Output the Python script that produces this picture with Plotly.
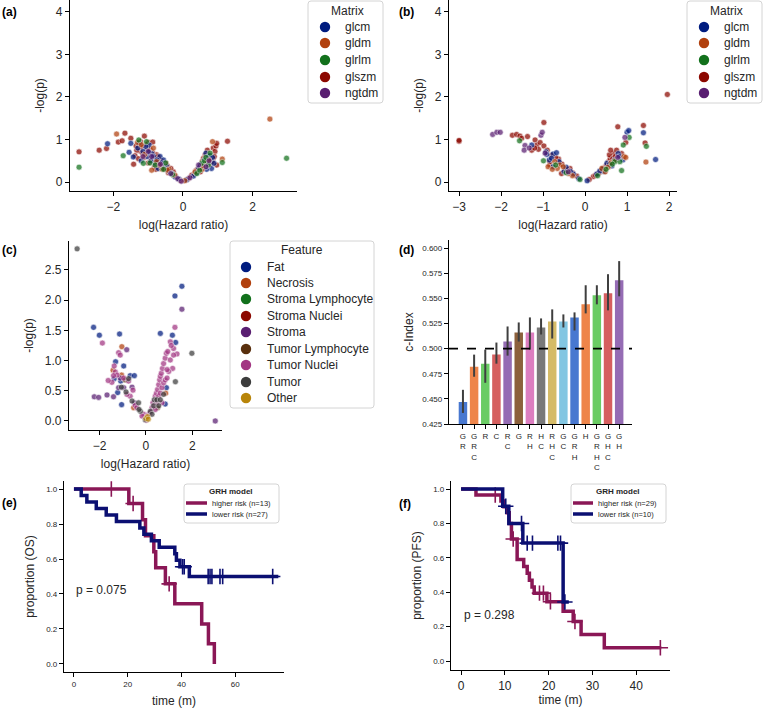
import plotly.graph_objects as go

FONT = "Liberation Sans, Arial, Helvetica, sans-serif"
TXT = "#262626"
W, H = 764, 710

# ---------------- categories / colours ----------------
MATRIX = ["glcm", "gldm", "glrlm", "glszm", "ngtdm"]
MATRIX_COLORS = ["#001c7f", "#b1400d", "#12711c", "#8c0800", "#591e71"]
FEATURES = ["Fat", "Necrosis", "Stroma Lymphocyte", "Stroma Nuclei", "Stroma",
            "Tumor Lymphocyte", "Tumor Nuclei", "Tumor", "Other"]
FEATURE_COLORS = ["#001c7f", "#b1400d", "#12711c", "#8c0800", "#591e71",
                  "#592f0d", "#a23582", "#3c3c3c", "#b8850a"]

# ---------------- panel (a) ----------------
A_GLSZM_HR = [-2.99, -2.41, -2.20, -1.86, -1.75, -1.67, -1.50, -1.42, -1.11, -0.99, -0.87, -1.03, -1.24, -1.16, -1.33, -1.19, -0.76, -0.62, -0.49, -0.82, -0.37, -0.28, -1.38, -1.28, -0.93, -0.70, -0.55, -0.42, -0.20, 0.25, 0.49, 0.50, 0.59, 0.64, 0.70, 0.76, 0.87, 0.87, 0.92, 0.95, 0.97, 0.97, 1.28, 0.38, 0.15, -0.08,
              -1.35, -1.22, -1.05, -0.95, -0.88, -0.80, -0.72, -0.65, -0.58, -0.45, -0.35, -0.30, -1.12, -1.00, -0.78, 0.42, 0.55, 0.62, 0.72, 0.80, 0.84, 0.90, 0.33]
A_GLSZM_P = [0.71, 0.75, 0.79, 0.94, 0.97, 1.15, 1.03, 0.42, 1.08, 0.93, 0.94, 0.75, 0.73, 0.67, 0.75, 0.83, 0.64, 0.48, 0.44, 0.36, 0.28, 0.24, 0.62, 0.55, 0.55, 0.50, 0.35, 0.22, 0.12, 0.16, 0.36, 0.24, 0.56, 0.64, 0.75, 0.40, 0.56, 0.80, 0.72, 0.85, 0.91, 0.40, 0.96, 0.27, 0.08, 0.04,
             0.85, 0.95, 0.88, 0.78, 0.70, 0.58, 0.60, 0.52, 0.42, 0.38, 0.32, 0.18, 0.58, 0.45, 0.30, 0.30, 0.48, 0.45, 0.56, 0.62, 0.48, 0.60, 0.20]
A_GLCM_HR = [-2.17, -1.55, -1.43, -1.50, -1.26, -0.97, -0.90, -1.03, -1.07, -0.85, -0.66, -0.56, -0.71, -0.47, -0.33, -1.20, -0.80, -0.60, -0.25, -0.12, 0.45, 0.60, 0.66, 0.73, 0.79, 0.82, 0.89, 0.30, 0.55, 0.68, 0.72, 0.10,
             -1.30, -1.15, -0.98, -0.92, -0.75, -0.62, -0.52, -0.40, -0.22, 0.50, 0.62, 0.70, 0.77, 0.85, 0.38]
A_GLCM_P = [0.90, 0.70, 0.59, 0.91, 0.92, 0.87, 0.67, 0.60, 0.83, 0.60, 0.60, 0.52, 0.32, 0.36, 0.20, 0.50, 0.45, 0.40, 0.14, 0.07, 0.32, 0.36, 0.68, 0.60, 0.54, 0.32, 0.44, 0.14, 0.42, 0.30, 0.52, 0.05,
            0.80, 0.72, 0.70, 0.50, 0.52, 0.45, 0.30, 0.26, 0.12, 0.40, 0.52, 0.44, 0.62, 0.58, 0.22]
A_GLDM_HR = [-1.91, -1.31, -0.76, -0.90, -0.23, -1.10, -0.60, -0.40, 0.35, 0.68, 0.85, 1.13, 2.50, 0.55, 0.05,
             -1.20, -0.85, -0.68, -0.45, 0.58, 0.75]
A_GLDM_P = [1.13, 0.93, 0.48, 0.28, 0.16, 0.65, 0.30, 0.30, 0.24, 0.48, 0.95, 0.54, 1.48, 0.30, 0.03,
            0.88, 0.80, 0.40, 0.28, 0.38, 0.52]
A_GLRLM_HR = [-2.99, -1.72, -1.27, -1.14, -0.56, -0.95, -0.30, 0.54, 0.78, 0.73, 1.13, 2.98, 0.40, 0.62,
              -1.05, -0.80, -0.50, 0.48, 0.66]
A_GLRLM_P = [0.35, 0.62, 0.99, 0.44, 0.30, 0.45, 0.18, 0.44, 0.68, 0.40, 0.46, 0.56, 0.20, 0.50,
             0.95, 0.40, 0.45, 0.28, 0.58]
A_NGTDM_HR = [-1.00, -0.65, -0.15, -0.05, 0.20, 0.66, 0.75, -1.15, -0.90, -0.35, 0.45]
A_NGTDM_P = [0.72, 0.42, 0.08, 0.02, 0.10, 0.36, 0.50, 0.60, 0.60, 0.20, 0.40]

# ---------------- panel (b) ----------------
B_GLSZM_HR = [-3.00, -3.00, -1.73, -1.63, -1.55, -1.51, -1.37, -1.27, -1.19, -1.15, -1.11, -1.07, -0.98, -0.98, -0.80, -0.84, -0.63, -0.56, -0.48, -0.36, -0.20, -0.84, -0.60, 0.20, 0.36, 0.48, 0.56, 0.60, 0.68, 0.75, 0.78, 0.97, 0.32, 0.58, 0.87, 1.39, 1.43, 1.96, 0.61, 0.10,
              -1.20, -0.90, -0.70, -0.55, -0.42, -0.30, 0.25, 0.42, 0.52, 0.66, 0.72]
B_GLSZM_P = [0.96, 0.98, 1.10, 1.12, 1.08, 1.03, 1.07, 0.75, 0.99, 0.87, 0.77, 0.93, 1.40, 0.85, 0.63, 0.40, 0.54, 0.20, 0.28, 0.32, 0.14, 0.48, 0.45, 0.13, 0.24, 0.36, 0.48, 0.56, 0.67, 0.75, 1.30, 0.93, 0.20, 0.64, 0.67, 1.33, 0.92, 2.06, 0.75, 0.06,
             0.80, 0.75, 0.58, 0.42, 0.30, 0.22, 0.16, 0.32, 0.40, 0.55, 0.60]
B_GLCM_HR = [-1.27, -0.93, -0.91, -0.85, -0.76, -0.68, -0.76, -0.28, -0.50, -0.15, 0.28, 0.42, 0.52, 0.64, 0.79, 0.90, 1.00, 1.04, 1.39, 1.68, 0.45, 0.05,
             -0.80, -0.62, -0.45, -0.35, 0.35, 0.58, 0.70, 0.82]
B_GLCM_P = [0.87, 0.71, 0.65, 0.52, 0.66, 0.69, 0.36, 0.19, 0.25, 0.08, 0.19, 0.30, 0.44, 0.38, 0.67, 0.52, 1.17, 1.21, 1.16, 0.53, 0.25, 0.03,
            0.56, 0.48, 0.35, 0.25, 0.26, 0.42, 0.52, 0.60]
B_GLDM_HR = [-0.88, -0.72, -0.60, -0.52, -0.66, -0.30, 0.40, 0.48, 0.93, 0.97, 1.45, 0.70, -0.78, -0.40, 0.55, 0.62]
B_GLDM_P = [0.36, 0.48, 0.40, 0.36, 0.32, 0.15, 0.32, 0.24, 0.60, 0.58, 0.47, 0.50, 0.30, 0.20, 0.35, 0.45]
B_GLRLM_HR = [-1.56, -0.99, -0.12, -0.45, 0.71, 0.83, 0.87, 1.05, 0.91, 1.46, 0.30, -0.70, 0.50, 0.65]
B_GLRLM_P = [0.97, 0.50, 0.06, 0.22, 0.48, 0.48, 0.27, 1.05, 0.87, 0.84, 0.15, 0.40, 0.30, 0.42]
B_NGTDM_HR = [-2.20, -2.10, -2.02, -1.43, -1.45, -1.05, -1.02, -1.33, 0.95, -0.40, -0.95, 0.78]
B_NGTDM_P = [1.12, 1.17, 1.17, 0.86, 0.75, 1.10, 1.17, 0.80, 1.05, 0.24, 0.68, 0.58]

# ---------------- panel (c) ----------------
C_FAT_HR = [1.55, 1.25, -2.26, -2.01, -1.14, 0.62, 1.14, 1.28, -1.31, -0.96, -1.37, -0.68, -0.50, -1.09, -1.22, -1.05, 0.83, 0.88]
C_FAT_P = [2.23, 2.07, 1.55, 1.42, 1.44, 1.45, 1.42, 1.30, 0.98, 0.91, 0.70, 0.75, 0.75, 0.66, 0.47, 0.27, 0.28, 0.55]
C_NEC_HR = [-1.04, -1.42, -1.05, 0.85, -0.53]
C_NEC_P = [1.23, 0.84, 0.76, 0.46, 0.22]
C_STRLYM_HR = []
C_STRLYM_P = []
C_STRNUC_HR = []
C_STRNUC_P = []
C_STROMA_HR = [1.55, -0.83, -1.11, -1.18, -0.96, -1.40, -1.68, -2.23, -2.04, -0.60, 2.99, -0.50]
C_STROMA_P = [1.85, 1.18, 0.71, 0.55, 0.55, 0.40, 0.43, 0.40, 0.39, 0.56, 0.00, 0.30]
C_TUMLYM_HR = [-0.90, 0.50]
C_TUMLYM_P = [0.68, 0.22]
C_TUMNUC_HR = [-1.88, -1.18, -1.11, -1.37, -1.32, -1.25, -1.40, -1.47, -0.96, -0.75, -1.63, -0.56, 1.25, 1.19, 1.34, 1.05, 1.09, 1.15, -0.10, -0.46, -0.39, -0.17, -0.68, -0.82, 0.01, 0.12, 0.26, 0.30, 0.40, 0.45, 0.50, 0.55, 0.59, 0.62, 0.66, 0.71, 0.76, 0.83, 0.88, 0.94, 0.55, 0.62, 0.69, 0.76, 0.83, 0.91, 0.98, 0.19, 0.40, 0.69, 0.47, 0.91, 1.05, 1.19]
C_TUMNUC_P = [1.29, 1.13, 1.09, 0.91, 0.81, 0.76, 0.75, 0.64, 0.71, 0.66, 0.67, 0.51, 1.55, 1.20, 1.11, 1.31, 1.25, 0.87, 0.11, 0.26, 0.22, 0.08, 0.41, 0.44, 0.01, 0.11, 0.22, 0.30, 0.41, 0.46, 0.52, 0.60, 0.68, 0.74, 0.79, 0.87, 0.95, 1.04, 1.12, 1.15, 0.41, 0.46, 0.55, 0.63, 0.68, 0.71, 0.82, 0.14, 0.19, 0.30, 0.30, 0.85, 1.01, 1.09]
C_TUMOR_HR = [-2.97, 1.98, -0.75, -1.06, -0.86, 0.19, 0.36, 0.47, 0.62, 0.76, 0.33, 0.55, 0.26, 1.27, -0.24, -0.32, -0.30, -0.03, -0.60]
C_TUMOR_P = [2.85, 1.12, 0.70, 0.56, 0.48, 0.16, 0.35, 0.35, 0.35, 0.44, 0.25, 0.25, 0.11, 0.65, 0.16, 0.30, 0.19, 0.02, 0.33]
C_OTHER_HR = [0.00, 0.07, 0.10]
C_OTHER_P = [0.04, 0.07, 0.03]

# ---------------- panel (d) ----------------
D_LABELS = ["G<br>R", "G<br>R<br>C", "R", "C", "R<br>C", "G", "R<br>H", "H<br>C",
            "R<br>H<br>C", "G<br>C", "G<br>R<br>H", "H", "G<br>R<br>H<br>C", "G<br>H<br>C", "G<br>H"]
D_CINDEX = [0.447, 0.482, 0.485, 0.494, 0.507, 0.516, 0.516, 0.521, 0.527, 0.527, 0.531, 0.544, 0.553, 0.555, 0.568]
D_CI_HIGH = [0.459, 0.494, 0.499, 0.506, 0.522, 0.526, 0.531, 0.530, 0.539, 0.534, 0.536, 0.563, 0.563, 0.574, 0.587]
D_CI_LOW = [0.436, 0.472, 0.466, 0.485, 0.493, 0.507, 0.499, 0.514, 0.510, 0.521, 0.518, 0.535, 0.544, 0.538, 0.552]
D_COLORS = ["#4878d0", "#ee854a", "#6acc64", "#d65f5f", "#956cb4", "#8c613c", "#dc7ec0",
            "#797979", "#d5bb67", "#82c6e2", "#4878d0", "#ee854a", "#6acc64", "#d65f5f", "#956cb4"]

# ---------------- panel (e) ----------------
E_HIGH_T = [0, 20.4, 25.5, 26.6, 29.7, 30.4, 34.0, 37.5, 47.5, 50.0, 52.2]
E_HIGH_S = [1.0, 0.917, 0.825, 0.733, 0.642, 0.550, 0.458, 0.344, 0.229, 0.115, 0.0]
E_HIGH_CENS_T = [13.9, 22.0, 35.4]
E_HIGH_CENS_S = [1.0, 0.917, 0.458]
E_LOW_T = [0, 2.7, 4.8, 8.3, 12.0, 15.8, 24.5, 26.0, 28.8, 31.7, 37.5, 38.1, 39.4, 42.9, 76.0]
E_LOW_S = [1.0, 0.963, 0.926, 0.889, 0.852, 0.815, 0.778, 0.741, 0.704, 0.667, 0.630, 0.593, 0.556, 0.5, 0.5]
E_LOW_CENS_T = [40.4, 41.0, 49.9, 50.6, 51.3, 54.3, 55.3, 73.9]
E_LOW_CENS_S = [0.556, 0.556, 0.5, 0.5, 0.5, 0.5, 0.5, 0.5]

# ---------------- panel (f) ----------------
F_HIGH_T = [0, 3.4, 9.1, 9.8, 10.5, 11.0, 11.5, 12.8, 14.3, 15.1, 15.6, 16.2, 16.7, 19.6, 23.3, 25.6, 27.4, 32.7, 45.7]
F_HIGH_S = [1.0, 0.966, 0.931, 0.897, 0.862, 0.80, 0.71, 0.59, 0.55, 0.51, 0.47, 0.43, 0.395, 0.345, 0.29, 0.23, 0.155, 0.077, 0.077]
F_HIGH_CENS_T = [7.8, 11.9, 17.9, 18.8, 20.4, 26.0, 45.5]
F_HIGH_CENS_S = [0.966, 0.71, 0.395, 0.395, 0.345, 0.23, 0.077]
F_LOW_T = [0, 9.5, 10.9, 14.1, 23.3, 24.6]
F_LOW_S = [1.0, 0.9, 0.8, 0.686, 0.343, 0.343]
F_LOW_CENS_T = [10.2, 13.8, 15.1, 16.3, 22.1, 22.7, 23.7]
F_LOW_CENS_S = [0.9, 0.8, 0.686, 0.686, 0.686, 0.686, 0.343]

KM_NAMES_E = ["higher risk (n=13)", "lower risk (n=27)"]
KM_NAMES_F = ["higher risk (n=29)", "lower risk (n=10)"]
HIGH_COLOR = "#8a1756"
LOW_COLOR = "#0b0f72"

fig = go.Figure()


def add_points(xs, ys, color, xa, ya):
    fig.add_trace(go.Scatter(
        x=xs, y=ys, mode="markers", xaxis=xa, yaxis=ya, showlegend=False, hoverinfo="skip",
        marker=dict(size=6, color=color, opacity=0.72, line=dict(color="white", width=0.6))))


# panel a
for xs, ys, c in [(A_GLSZM_HR, A_GLSZM_P, MATRIX_COLORS[3]), (A_GLCM_HR, A_GLCM_P, MATRIX_COLORS[0]),
                  (A_GLDM_HR, A_GLDM_P, MATRIX_COLORS[1]), (A_GLRLM_HR, A_GLRLM_P, MATRIX_COLORS[2]),
                  (A_NGTDM_HR, A_NGTDM_P, MATRIX_COLORS[4])]:
    add_points(xs, ys, c, "x", "y")

# panel b
for xs, ys, c in [(B_GLSZM_HR, B_GLSZM_P, MATRIX_COLORS[3]), (B_GLCM_HR, B_GLCM_P, MATRIX_COLORS[0]),
                  (B_GLDM_HR, B_GLDM_P, MATRIX_COLORS[1]), (B_GLRLM_HR, B_GLRLM_P, MATRIX_COLORS[2]),
                  (B_NGTDM_HR, B_NGTDM_P, MATRIX_COLORS[4])]:
    add_points(xs, ys, c, "x2", "y2")

# panel c
c_sets = [(C_FAT_HR, C_FAT_P), (C_NEC_HR, C_NEC_P), (C_STRLYM_HR, C_STRLYM_P), (C_STRNUC_HR, C_STRNUC_P),
          (C_STROMA_HR, C_STROMA_P), (C_TUMLYM_HR, C_TUMLYM_P), (C_TUMNUC_HR, C_TUMNUC_P),
          (C_TUMOR_HR, C_TUMOR_P), (C_OTHER_HR, C_OTHER_P)]
for (xs, ys), c in zip(c_sets, FEATURE_COLORS):
    if xs:
        add_points(xs, ys, c, "x3", "y3")

# panel d
fig.add_trace(go.Bar(
    x=list(range(len(D_CINDEX))), y=D_CINDEX, xaxis="x4", yaxis="y4", showlegend=False,
    marker=dict(color=D_COLORS, line=dict(width=0)), width=0.76,
    error_y=dict(type="data", symmetric=False,
                 array=[h - v for h, v in zip(D_CI_HIGH, D_CINDEX)],
                 arrayminus=[v - l for l, v in zip(D_CI_LOW, D_CINDEX)],
                 color="#3f3f3f", thickness=2, width=0)))


# KM panels
def km(t, s, ct, cs, color, name, xa, ya):
    fig.add_trace(go.Scatter(x=t, y=s, mode="lines", line=dict(color=color, width=3.5, shape="hv"),
                             name=name, showlegend=False, xaxis=xa, yaxis=ya))
    fig.add_trace(go.Scatter(x=ct, y=cs, mode="markers", showlegend=False, xaxis=xa, yaxis=ya,
                             marker=dict(symbol="cross-thin", size=11, line=dict(color=color, width=1.6))))


km(E_HIGH_T, E_HIGH_S, E_HIGH_CENS_T, E_HIGH_CENS_S, HIGH_COLOR, KM_NAMES_E[0], "x5", "y5")
km(E_LOW_T, E_LOW_S, E_LOW_CENS_T, E_LOW_CENS_S, LOW_COLOR, KM_NAMES_E[1], "x5", "y5")
km(F_HIGH_T, F_HIGH_S, F_HIGH_CENS_T, F_HIGH_CENS_S, HIGH_COLOR, KM_NAMES_F[0], "x6", "y6")
km(F_LOW_T, F_LOW_S, F_LOW_CENS_T, F_LOW_CENS_S, LOW_COLOR, KM_NAMES_F[1], "x6", "y6")


def X(p):
    return p / W


def Y(p):
    return 1 - p / H


def axis(domain, rng, anchor, title=None, size=12, standoff=8, **kw):
    d = dict(domain=domain, range=rng, anchor=anchor, showline=True, linecolor="black", linewidth=1.3,
             ticks="outside", ticklen=4, tickwidth=1.3, tickcolor="black", showgrid=False, zeroline=False,
             tickfont=dict(size=size, color=TXT, family=FONT))
    if title:
        d["title"] = dict(text=title, font=dict(size=12, color=TXT, family=FONT), standoff=standoff)
    d.update(kw)
    return d


# ---------------- hand-drawn legends (shapes + text) ----------------
shapes = [dict(type="line", xref="x4 domain", yref="y4", x0=0, x1=1, y0=0.5, y1=0.5,
               line=dict(color="black", width=1.6, dash="dash"))]
annots = []


def box(x0, y0, x1, y1, r=3):
    path = ("M {a},{b} L {c},{b} Q {d},{b} {d},{e} L {d},{f} Q {d},{g} {c},{g} L {a},{g} "
            "Q {h},{g} {h},{f} L {h},{e} Q {h},{b} {a},{b} Z").format(
        a=X(x0 + r), b=Y(y0), c=X(x1 - r), d=X(x1), e=Y(y0 + r), f=Y(y1 - r), g=Y(y1), h=X(x0))
    shapes.append(dict(type="path", path=path, xref="paper", yref="paper", fillcolor="rgba(255,255,255,0.9)",
                       line=dict(color="#d4d4d4", width=1), layer="above"))


def text(t, x, y, size, anchor="left"):
    annots.append(dict(text=t, x=X(x), y=Y(y), xref="paper", yref="paper", xanchor=anchor, yanchor="middle",
                       showarrow=False, font=dict(size=size, color=TXT, family=FONT)))


def dot_legend(x0, y0, x1, y1, title, title_xy, names, colors, cx, tx, ys, r=5.2):
    box(x0, y0, x1, y1)
    text(title, title_xy[0], title_xy[1], 12, "center")
    for n, c, yy in zip(names, colors, ys):
        shapes.append(dict(type="circle", xref="paper", yref="paper", x0=X(cx - r), x1=X(cx + r),
                           y0=Y(yy + r), y1=Y(yy - r), fillcolor=c, line=dict(width=0), layer="above"))
        text(n, tx, yy, 12)


def line_legend(x0, y0, x1, y1, title_xy, names, colors, lx0, lx1, tx, ys):
    box(x0, y0, x1, y1)
    text("<b>GRH model</b>", title_xy[0], title_xy[1], 8, "center")
    for n, c, yy in zip(names, colors, ys):
        shapes.append(dict(type="line", xref="paper", yref="paper", x0=X(lx0), x1=X(lx1), y0=Y(yy), y1=Y(yy),
                           line=dict(color=c, width=3.5), layer="above"))
        text(n, tx, yy, 7.5)


m_ys = [27, 43, 60, 77, 93]
dot_legend(308, 1, 383, 103, "Matrix", (347, 11), MATRIX, MATRIX_COLORS, 325, 343, m_ys)
dot_legend(687, 1, 762, 103, "Matrix", (726, 11), MATRIX, MATRIX_COLORS, 704, 722, m_ys)
dot_legend(230, 241, 374, 408, "Feature", (302, 250), FEATURES, FEATURE_COLORS, 246, 265,
           [267, 283, 299, 316, 332, 349, 365, 382, 398])
line_legend(184, 484, 279, 523, (231, 491.5), KM_NAMES_E, [HIGH_COLOR, LOW_COLOR], 186, 207, 210, [503, 514])
line_legend(571, 484, 666, 523, (618, 491.5), KM_NAMES_F, [HIGH_COLOR, LOW_COLOR], 573, 593, 596, [503, 514])

for t, x, y in [("(a)", 0, 12), ("(b)", 397, 12), ("(c)", 0, 250), ("(d)", 397, 250), ("(e)", 0, 503), ("(f)", 397, 504)]:
    annots.append(dict(text="<b>%s</b>" % t, x=X(x), y=Y(y), xref="paper", yref="paper",
                       xanchor="left", yanchor="middle", showarrow=False,
                       font=dict(size=12, color="black", family=FONT)))

annots.append(dict(text="p = 0.075", x=0.2, y=0.42, xref="x5", yref="y5", xanchor="left", yanchor="middle",
                   showarrow=False, font=dict(size=12, color=TXT, family=FONT)))
annots.append(dict(text="p = 0.298", x=0.1, y=0.27, xref="x6", yref="y6", xanchor="left", yanchor="middle",
                   showarrow=False, font=dict(size=12, color=TXT, family=FONT)))

fig.update_layout(
    width=W, height=H, margin=dict(l=0, r=0, t=0, b=0), template="none", showlegend=False,
    paper_bgcolor="white", plot_bgcolor="white", font=dict(family=FONT, color=TXT),
    xaxis=axis([X(70), X(297)], [-3.25, 3.28], "y", "log(Hazard ratio)", tick0=0, dtick=2),
    yaxis=axis([Y(191), 1.0], [-0.21, 4.28], "x", "-log(p)", tick0=0, dtick=1),
    xaxis2=axis([X(449), X(677)], [-3.24, 2.19], "y2", "log(Hazard ratio)", tick0=0, dtick=1),
    yaxis2=axis([Y(191), 1.0], [-0.21, 4.28], "x2", "-log(p)", tick0=0, dtick=1),
    xaxis3=axis([X(69), X(222)], [-3.32, 3.28], "y3", "log(Hazard ratio)", tick0=0, dtick=2),
    yaxis3=axis([Y(430), Y(241)], [-0.15, 2.98], "x3", "-log(p)", tick0=0, dtick=0.5, tickformat=".1f"),
    xaxis4=axis([X(449), X(632)], [-1.25, 15.15], "y4", None, size=8,
                tickmode="array", tickvals=list(range(len(D_LABELS))), ticktext=D_LABELS),
    yaxis4=axis([Y(424), Y(240)], [0.425, 0.608], "x4", "c-Index", size=8, standoff=6,
                tick0=0.425, dtick=0.025, tickformat=".3f"),
    xaxis5=axis([X(64), X(284)], [-3.7, 78.1], "y5", "time (m)", size=8, tick0=0, dtick=20),
    yaxis5=axis([Y(672), Y(481)], [-0.046, 1.046], "x5", "proportion (OS)", size=8,
                tick0=0, dtick=0.2, tickformat=".1f"),
    xaxis6=axis([X(451), X(670)], [-2.3, 47.7], "y6", "time (m)", size=12, standoff=4, tick0=0, dtick=10),
    yaxis6=axis([Y(670), Y(481)], [-0.052, 1.047], "x6", "proportion (PFS)", size=8,
                tick0=0, dtick=0.2, tickformat=".1f"),
    shapes=shapes,
    annotations=annots,
)

fig.write_html("out.html", config={"displayModeBar": False},
               post_script="document.body.style.margin='0px';")
